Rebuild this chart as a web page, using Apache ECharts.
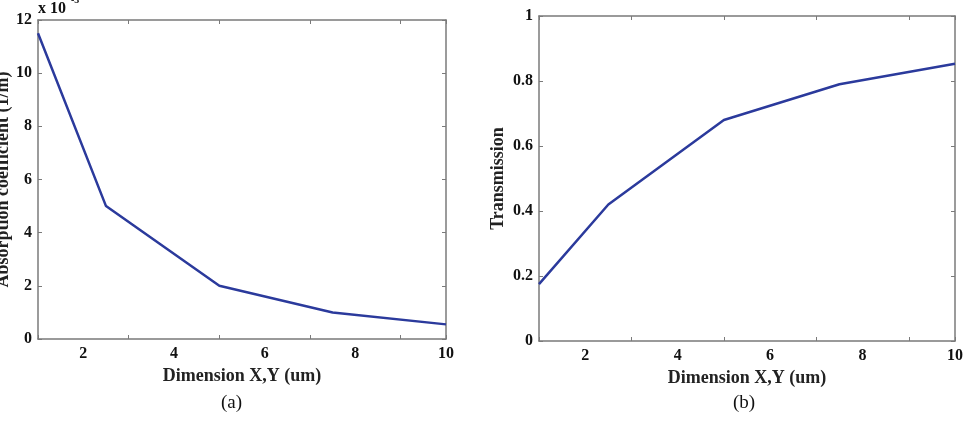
<!DOCTYPE html>
<html><head><meta charset="utf-8">
<script src="https://cdn.jsdelivr.net/npm/echarts@6/dist/echarts.min.js"></script>
<style>html,body{margin:0;padding:0;background:#fff}#c{width:968px;height:422px}</style>
</head><body><div id="c"></div>
<script>
const dimA = [1, 2.5, 5, 7.5, 10];
const absorption = [11.5, 5.0, 2.0, 1.0, 0.55];
const dimB = [1, 2.5, 5, 7.5, 10];
const transmission = [0.175, 0.42, 0.68, 0.79, 0.853];
const xTicks = [2, 4, 6, 8, 10];

const chart = echarts.init(document.getElementById('c'));
const font = 'Liberation Serif';
const axisCol = '#7a7a7a';
const lineCol = '#2b3a9c';
function xa(gi, show) {
  return {
    type: 'value', gridIndex: gi, min: 1, max: 10, interval: 2,
    position: show ? 'bottom' : 'top',
    axisLine: { show: true, onZero: false, lineStyle: { color: axisCol, width: 1.5 } },
    axisTick: { show: true, inside: true, length: 4, lineStyle: { color: axisCol } },
    axisLabel: { show: show, margin: 7, color: '#111', fontFamily: font, fontWeight: 'bold', fontSize: 16,
      customValues: xTicks },
    splitLine: { show: false },
    name: show ? 'Dimension X,Y (um)' : '', nameLocation: 'middle', nameGap: 26,
    nameTextStyle: { color: '#222', fontFamily: font, fontWeight: 'bold', fontSize: 18 }
  };
}
function ya(gi, show, max, interval, name, gap, fmt) {
  return {
    type: 'value', gridIndex: gi, min: 0, max: max, interval: interval,
    position: show ? 'left' : 'right',
    axisLine: { show: true, onZero: false, lineStyle: { color: axisCol, width: 1.5 } },
    axisTick: { show: true, inside: true, length: 4, lineStyle: { color: axisCol } },
    axisLabel: { show: show, margin: 6, color: '#111', fontFamily: font, fontWeight: 'bold', fontSize: 16, formatter: fmt },
    splitLine: { show: false },
    name: show ? name : '', nameLocation: 'middle', nameGap: gap,
    nameTextStyle: { color: '#222', fontFamily: font, fontWeight: 'bold', fontSize: 18 }
  };
}
chart.setOption({
  animation: false,
  backgroundColor: '#fff',
  grid: [
    { left: 38, right: 522, top: 20, bottom: 83, containLabel: false, outerBoundsMode: 'none' },
    { left: 539, right: 13, top: 16, bottom: 81, containLabel: false, outerBoundsMode: 'none' }
  ],
  xAxis: [xa(0, true), xa(0, false), xa(1, true), xa(1, false)],
  yAxis: [
    ya(0, true, 12, 2, 'Absorption coefficient (1/m)', 26, v => String(v)),
    ya(0, false, 12, 2, '', 0),
    ya(1, true, 1, 0.2, 'Transmission', 32, v => (v === 0 || v === 1) ? String(v) : v.toFixed(1)),
    ya(1, false, 1, 0.2, '', 0)
  ],
  series: [
    { type: 'line', xAxisIndex: 0, yAxisIndex: 0, data: dimA.map((d, i) => [d, absorption[i]]),
      showSymbol: false, lineStyle: { color: lineCol, width: 2.5 } },
    { type: 'line', xAxisIndex: 2, yAxisIndex: 2, data: dimB.map((d, i) => [d, transmission[i]]),
      showSymbol: false, lineStyle: { color: lineCol, width: 2.5 } }
  ],
  graphic: [
    { type: 'text', left: 38, top: 1, style: { text: 'x 10', fill: '#111', font: 'bold 16px "Liberation Serif"' } },
    { type: 'text', left: 71, top: -5, style: { text: '-3', fill: '#111', font: 'bold 10px "Liberation Serif"' } },
    { type: 'text', left: 221, top: 394, style: { text: '(a)', fill: '#111', font: '19px "Liberation Serif"' } },
    { type: 'text', left: 733, top: 394, style: { text: '(b)', fill: '#111', font: '19px "Liberation Serif"' } }
  ]
});
</script></body></html>
